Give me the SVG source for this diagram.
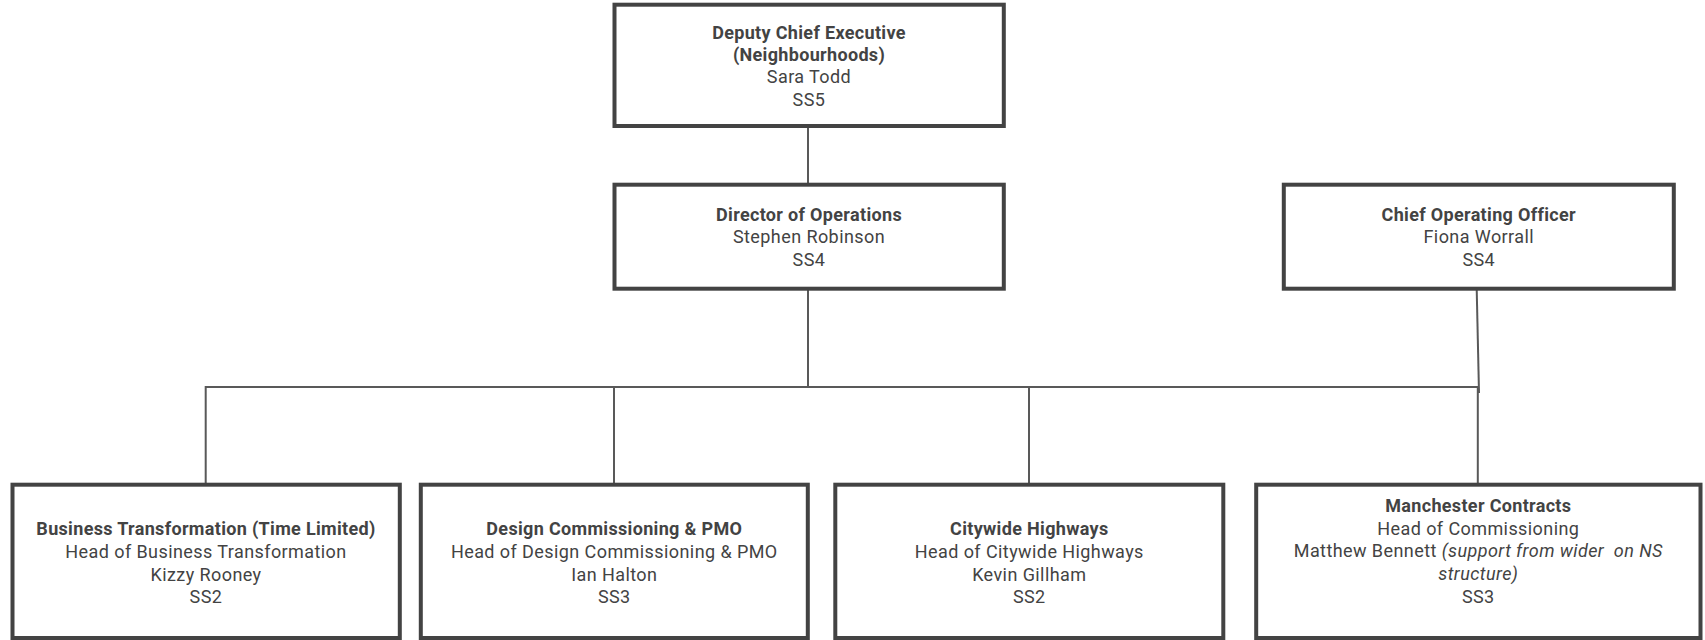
<svg xmlns="http://www.w3.org/2000/svg" width="1705" height="640" viewBox="0 0 1705 640">
<style>
.box{fill:#ffffff;stroke:#434343;stroke-width:4}
.con{fill:none;stroke:#595959;stroke-width:2}
text{font-family:Roboto,"Liberation Sans",sans-serif;font-size:18px;letter-spacing:0.42px;fill:#434343;text-anchor:middle}
.b{font-weight:bold;letter-spacing:0.33px}
.i{font-style:italic}
</style>
<rect width="1705" height="640" fill="#ffffff"/>
<g id="connectors">
<line class="con" x1="808" y1="126" x2="808" y2="185"/>
<line class="con" x1="808" y1="289" x2="808" y2="387"/>
<polyline class="con" points="205.7,484 205.7,387 1479,387"/>
<line class="con" x1="614" y1="387" x2="614" y2="484"/>
<line class="con" x1="1029" y1="387" x2="1029" y2="484"/>
<line class="con" x1="1476.7" y1="289" x2="1479" y2="393"/>
<line class="con" x1="1477.8" y1="387" x2="1477.8" y2="484"/>
</g>
<g id="deputy-chief-executive">
<rect class="box" x="614.5" y="4.7" width="389.3" height="121.3"/>
<text x="809" y="38.6" class="b">Deputy Chief Executive</text>
<text x="809" y="61.2" class="b">(Neighbourhoods)</text>
<text x="809" y="83.4">Sara Todd</text>
<text x="809" y="106">SS5</text>
</g>
<g id="director-of-operations">
<rect class="box" x="614.5" y="184.7" width="389.3" height="104"/>
<text x="809" y="220.5" class="b">Director of Operations</text>
<text x="809" y="243.2">Stephen Robinson</text>
<text x="809" y="266">SS4</text>
</g>
<g id="chief-operating-officer">
<rect class="box" x="1283.8" y="184.7" width="390" height="104"/>
<text x="1478.8" y="220.5" class="b">Chief Operating Officer</text>
<text x="1478.8" y="243.2">Fiona Worrall</text>
<text x="1478.8" y="266">SS4</text>
</g>
<g id="business-transformation">
<rect class="box" x="12.5" y="484.7" width="387.3" height="153.3"/>
<text x="206" y="535" class="b">Business Transformation (Time Limited)</text>
<text x="206" y="557.8">Head of Business Transformation</text>
<text x="206" y="580.6">Kizzy Rooney</text>
<text x="206" y="603.4">SS2</text>
</g>
<g id="design-commissioning-pmo">
<rect class="box" x="420.8" y="484.7" width="387" height="153.3"/>
<text x="614.3" y="535" class="b">Design Commissioning &amp; PMO</text>
<text x="614.3" y="557.8">Head of Design Commissioning &amp; PMO</text>
<text x="614.3" y="580.6">Ian Halton</text>
<text x="614.3" y="603.4">SS3</text>
</g>
<g id="citywide-highways">
<rect class="box" x="835.3" y="484.7" width="388" height="153.3"/>
<text x="1029.3" y="535" class="b">Citywide Highways</text>
<text x="1029.3" y="557.8">Head of Citywide Highways</text>
<text x="1029.3" y="580.6">Kevin Gillham</text>
<text x="1029.3" y="603.4">SS2</text>
</g>
<g id="manchester-contracts">
<rect class="box" x="1256.2" y="484.7" width="444.3" height="153.3"/>
<text x="1478.3" y="511.8" class="b">Manchester Contracts</text>
<text x="1478.3" y="534.6">Head of Commissioning</text>
<text x="1478.3" y="557.4" xml:space="preserve">Matthew Bennett <tspan class="i">(support from wider  on NS</tspan></text>
<text x="1478.3" y="580.2" class="i">structure)</text>
<text x="1478.3" y="603">SS3</text>
</g>
</svg>
